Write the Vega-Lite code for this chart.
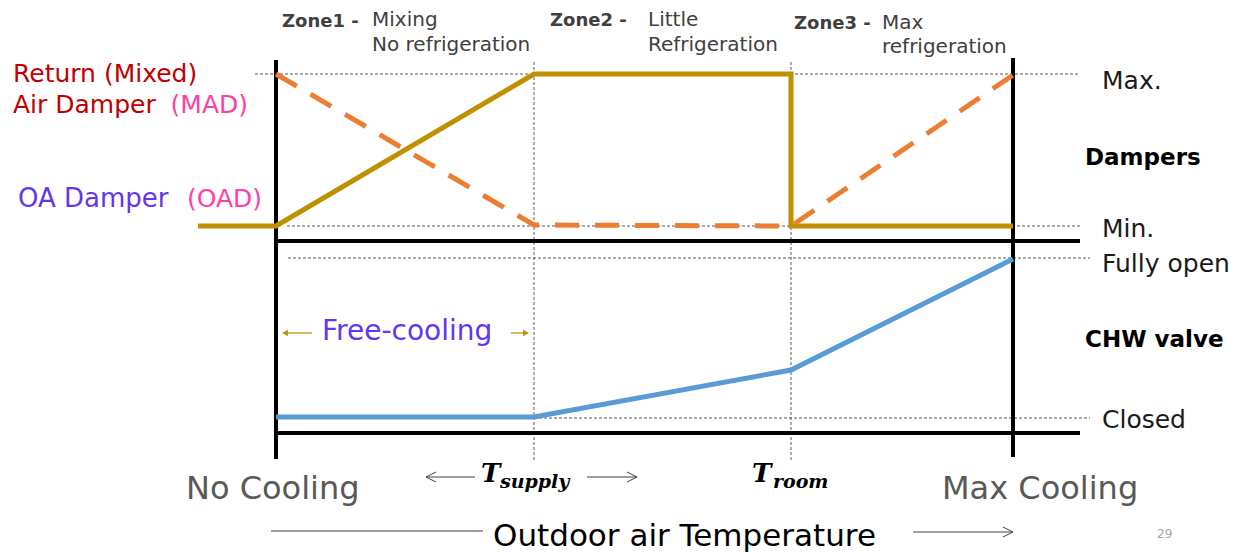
{
  "$schema": "https://vega.github.io/schema/vega-lite/v6.json",
  "width": 1243,
  "height": 552,
  "padding": 0,
  "autosize": {"type": "fit", "contains": "padding"},
  "background": "white",
  "config": {"view": {"stroke": null}, "text": {"font": "DejaVu Sans", "align": "left", "baseline": "alphabetic"}},
  "datasets": {
    "seg": [
      {"kind": "dotted", "x": 255, "y": 74, "x2": 1080, "y2": 74},
      {"kind": "dotted", "x": 287, "y": 226, "x2": 1080, "y2": 226},
      {"kind": "dotted", "x": 288, "y": 258, "x2": 1090, "y2": 258},
      {"kind": "dotted", "x": 534, "y": 418, "x2": 1090, "y2": 418},
      {"kind": "dotted", "x": 534, "y": 62, "x2": 534, "y2": 460},
      {"kind": "dotted", "x": 791, "y": 62, "x2": 791, "y2": 460},
      {"kind": "thick", "x": 276, "y": 60, "x2": 276, "y2": 459},
      {"kind": "thick", "x": 1013, "y": 58, "x2": 1013, "y2": 457},
      {"kind": "thick", "x": 276, "y": 241, "x2": 1080, "y2": 241},
      {"kind": "thick", "x": 276, "y": 433, "x2": 1080, "y2": 433},
      {"kind": "thin", "x": 426, "y": 477, "x2": 475, "y2": 477},
      {"kind": "thin", "x": 587, "y": 477, "x2": 637, "y2": 477},
      {"kind": "thin", "x": 271, "y": 531, "x2": 483, "y2": 531},
      {"kind": "thin", "x": 913, "y": 532, "x2": 1013, "y2": 532},
      {"kind": "gold", "x": 287, "y": 333, "x2": 312, "y2": 333},
      {"kind": "gold", "x": 511, "y": 333, "x2": 524, "y2": 333}
    ],
    "ln": [
      {"s": "OAD", "i": 0, "x": 198, "y": 226},
      {"s": "OAD", "i": 1, "x": 276, "y": 226},
      {"s": "OAD", "i": 2, "x": 534, "y": 74},
      {"s": "OAD", "i": 3, "x": 791, "y": 74},
      {"s": "OAD", "i": 4, "x": 791, "y": 226},
      {"s": "OAD", "i": 5, "x": 1013, "y": 226},
      {"s": "MAD", "i": 0, "x": 276, "y": 74},
      {"s": "MAD", "i": 1, "x": 534, "y": 225},
      {"s": "MAD", "i": 2, "x": 791, "y": 226},
      {"s": "MAD", "i": 3, "x": 1013, "y": 75},
      {"s": "CHW", "i": 0, "x": 276, "y": 417},
      {"s": "CHW", "i": 1, "x": 534, "y": 417},
      {"s": "CHW", "i": 2, "x": 791, "y": 370},
      {"s": "CHW", "i": 3, "x": 1013, "y": 259},
      {"s": "h1", "i": 0, "x": 436, "y": 472},
      {"s": "h1", "i": 1, "x": 426, "y": 477},
      {"s": "h1", "i": 2, "x": 436, "y": 482},
      {"s": "h2", "i": 0, "x": 627, "y": 472},
      {"s": "h2", "i": 1, "x": 637, "y": 477},
      {"s": "h2", "i": 2, "x": 627, "y": 482},
      {"s": "h3", "i": 0, "x": 1003, "y": 527},
      {"s": "h3", "i": 1, "x": 1013, "y": 532},
      {"s": "h3", "i": 2, "x": 1003, "y": 537}
    ],
    "tri": [
      {"dir": "left", "x": 285, "y": 333},
      {"dir": "right", "x": 526, "y": 333}
    ],
    "lab": [
      {"g": "zb", "t": "Zone1 -", "x": 282, "y": 27},
      {"g": "zb", "t": "Zone2 -", "x": 550, "y": 26},
      {"g": "zb", "t": "Zone3 -", "x": 794, "y": 29},
      {"g": "zd", "t": "Mixing", "x": 372, "y": 26},
      {"g": "zd", "t": "No refrigeration", "x": 372, "y": 51},
      {"g": "zd", "t": "Little", "x": 648, "y": 26},
      {"g": "zd", "t": "Refrigeration", "x": 648, "y": 51},
      {"g": "zd", "t": "Max", "x": 882, "y": 29},
      {"g": "zd", "t": "refrigeration", "x": 882, "y": 53},
      {"g": "red", "t": "Return (Mixed)", "x": 13, "y": 82},
      {"g": "red", "t": "Air Damper", "x": 13, "y": 113},
      {"g": "pinkM", "t": "(MAD)", "x": 248, "y": 113},
      {"g": "purple", "t": "OA Damper", "x": 18, "y": 207},
      {"g": "pinkO", "t": "(OAD)", "x": 262, "y": 207},
      {"g": "fc", "t": "Free-cooling", "x": 322, "y": 340},
      {"g": "rl", "t": "Max.", "x": 1102, "y": 89},
      {"g": "rl", "t": "Min.", "x": 1102, "y": 237},
      {"g": "rl", "t": "Fully open", "x": 1102, "y": 272},
      {"g": "rl", "t": "Closed", "x": 1102, "y": 428},
      {"g": "rb", "t": "Dampers", "x": 1085, "y": 165},
      {"g": "rb", "t": "CHW valve", "x": 1085, "y": 347},
      {"g": "big", "t": "No Cooling", "x": 186, "y": 499},
      {"g": "big", "t": "Max Cooling", "x": 942, "y": 499},
      {"g": "oat", "t": "Outdoor air Temperature", "x": 493, "y": 546},
      {"g": "T", "t": "T", "x": 481, "y": 482},
      {"g": "T", "t": "T", "x": 752, "y": 482},
      {"g": "sub", "t": "supply", "x": 500, "y": 488},
      {"g": "sub", "t": "room", "x": 773, "y": 488},
      {"g": "pg", "t": "29", "x": 1157, "y": 538}
    ]
  },
  "encoding": {
    "x": {"field": "x", "type": "quantitative", "scale": {"domain": [0, 1243], "nice": false, "zero": false}, "axis": null},
    "y": {"field": "y", "type": "quantitative", "scale": {"domain": [0, 552], "nice": false, "zero": false, "reverse": true}, "axis": null}
  },
  "layer": [
    {"data": {"name": "seg"}, "transform": [{"filter": "datum.kind == 'dotted'"}],
     "mark": {"type": "rule", "color": "#595959", "strokeWidth": 1, "strokeDash": [3, 2]},
     "encoding": {"x2": {"field": "x2"}, "y2": {"field": "y2"}}},
    {"data": {"name": "seg"}, "transform": [{"filter": "datum.kind == 'thick'"}],
     "mark": {"type": "rule", "color": "#000000", "strokeWidth": 4},
     "encoding": {"x2": {"field": "x2"}, "y2": {"field": "y2"}}},
    {"data": {"name": "seg"}, "transform": [{"filter": "datum.kind == 'thin'"}],
     "mark": {"type": "rule", "color": "#404040", "strokeWidth": 1},
     "encoding": {"x2": {"field": "x2"}, "y2": {"field": "y2"}}},
    {"data": {"name": "seg"}, "transform": [{"filter": "datum.kind == 'gold'"}],
     "mark": {"type": "rule", "color": "#C9A227", "strokeWidth": 1.5},
     "encoding": {"x2": {"field": "x2"}, "y2": {"field": "y2"}}},
    {"data": {"name": "ln"}, "transform": [{"filter": "datum.s == 'OAD'"}],
     "mark": {"type": "line", "color": "#BF9000", "strokeWidth": 5},
     "encoding": {"order": {"field": "i"}}},
    {"data": {"name": "ln"}, "transform": [{"filter": "datum.s == 'MAD'"}],
     "mark": {"type": "line", "color": "#ED7D31", "strokeWidth": 5, "strokeDash": [24, 16]},
     "encoding": {"order": {"field": "i"}}},
    {"data": {"name": "ln"}, "transform": [{"filter": "datum.s == 'CHW'"}],
     "mark": {"type": "line", "color": "#5B9BD5", "strokeWidth": 5},
     "encoding": {"order": {"field": "i"}}},
    {"data": {"name": "ln"}, "transform": [{"filter": "indexof(['h1','h2','h3'], datum.s) >= 0"}],
     "mark": {"type": "line", "color": "#404040", "strokeWidth": 1},
     "encoding": {"order": {"field": "i"}, "detail": {"field": "s"}}},
    {"data": {"name": "tri"},
     "mark": {"type": "point", "filled": true, "color": "#BF9000", "size": 45, "opacity": 1},
     "encoding": {"shape": {"field": "dir", "type": "nominal", "scale": {"domain": ["left", "right"], "range": ["triangle-left", "triangle-right"]}, "legend": null}}},
    {"data": {"name": "lab"}, "transform": [{"filter": "datum.g == 'zb'"}],
     "mark": {"type": "text", "fontSize": 18, "fontWeight": "bold", "color": "#404040"},
     "encoding": {"text": {"field": "t"}}},
    {"data": {"name": "lab"}, "transform": [{"filter": "datum.g == 'zd'"}],
     "mark": {"type": "text", "fontSize": 20, "color": "#404040"},
     "encoding": {"text": {"field": "t"}}},
    {"data": {"name": "lab"}, "transform": [{"filter": "datum.g == 'red'"}],
     "mark": {"type": "text", "fontSize": 25, "color": "#C00000"},
     "encoding": {"text": {"field": "t"}}},
    {"data": {"name": "lab"}, "transform": [{"filter": "datum.g == 'pinkM' || datum.g == 'pinkO'"}],
     "mark": {"type": "text", "fontSize": 25, "color": "#FF3FA4", "align": "right"},
     "encoding": {"text": {"field": "t"}}},
    {"data": {"name": "lab"}, "transform": [{"filter": "datum.g == 'purple'"}],
     "mark": {"type": "text", "fontSize": 26, "color": "#6236F0"},
     "encoding": {"text": {"field": "t"}}},
    {"data": {"name": "lab"}, "transform": [{"filter": "datum.g == 'fc'"}],
     "mark": {"type": "text", "fontSize": 28, "color": "#6236F0"},
     "encoding": {"text": {"field": "t"}}},
    {"data": {"name": "lab"}, "transform": [{"filter": "datum.g == 'rl'"}],
     "mark": {"type": "text", "fontSize": 25, "color": "#1a1a1a"},
     "encoding": {"text": {"field": "t"}}},
    {"data": {"name": "lab"}, "transform": [{"filter": "datum.g == 'rb'"}],
     "mark": {"type": "text", "fontSize": 23, "fontWeight": "bold", "color": "#000000"},
     "encoding": {"text": {"field": "t"}}},
    {"data": {"name": "lab"}, "transform": [{"filter": "datum.g == 'big'"}],
     "mark": {"type": "text", "fontSize": 32, "color": "#595959"},
     "encoding": {"text": {"field": "t"}}},
    {"data": {"name": "lab"}, "transform": [{"filter": "datum.g == 'oat'"}],
     "mark": {"type": "text", "fontSize": 31, "color": "#000000"},
     "encoding": {"text": {"field": "t"}}},
    {"data": {"name": "lab"}, "transform": [{"filter": "datum.g == 'T'"}],
     "mark": {"type": "text", "font": "DejaVu Serif", "fontSize": 26, "fontWeight": "bold", "fontStyle": "italic", "color": "#000000"},
     "encoding": {"text": {"field": "t"}}},
    {"data": {"name": "lab"}, "transform": [{"filter": "datum.g == 'sub'"}],
     "mark": {"type": "text", "font": "DejaVu Serif", "fontSize": 19, "fontWeight": "bold", "fontStyle": "italic", "color": "#000000"},
     "encoding": {"text": {"field": "t"}}},
    {"data": {"name": "lab"}, "transform": [{"filter": "datum.g == 'pg'"}],
     "mark": {"type": "text", "fontSize": 12, "color": "#A6A6A6"},
     "encoding": {"text": {"field": "t"}}}
  ]
}
